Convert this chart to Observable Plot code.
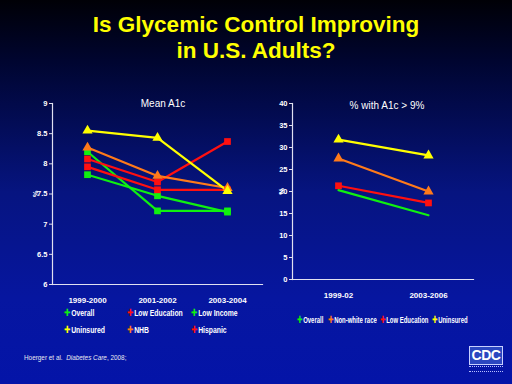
<!DOCTYPE html>
<html><head><meta charset="utf-8">
<script src="https://cdn.jsdelivr.net/npm/d3@7"></script>
<script src="https://cdn.jsdelivr.net/npm/@observablehq/plot@0.6"></script>
<style>
html,body{margin:0;padding:0;background:#000;}
#slide{position:relative;width:512px;height:384px;overflow:hidden;
  background:linear-gradient(180deg,#000006 0%,#000530 16%,#061480 50%,#0616a0 78%,#0414a8 100%);
  font-family:"Liberation Sans",Arial,sans-serif;}
#title{position:absolute;left:0;top:12px;width:512px;text-align:center;color:#ffff00;
  font-weight:bold;font-size:22.5px;line-height:26px;}
.plot{position:absolute;}
.ptitle{position:absolute;color:#fff;font-size:10px;transform:translateX(-50%);white-space:nowrap;}
.leg{position:absolute;color:#fff;font-family:"Liberation Sans",Arial,sans-serif;
  font-size:9px;font-weight:bold;white-space:nowrap;transform:scaleX(0.76);transform-origin:0 50%;}
.leg span.m{font-family:"DejaVu Sans";font-size:10px;margin-right:1px;}
#cite{position:absolute;left:24px;top:353px;color:#e8e8f0;font-size:7.5px;
  font-family:"Liberation Sans",Arial,sans-serif;transform:scaleX(0.85);transform-origin:0 50%;white-space:nowrap;}
#cdc{position:absolute;left:469px;top:346px;width:32px;height:17px;background:#2a46c0;
  border:1px solid #c8d0ff;color:#fff;font-weight:bold;font-size:14px;line-height:17px;text-align:center;letter-spacing:-0.5px;}
#cdcsub{position:absolute;left:469px;top:366px;width:34px;height:4px;border-top:1px dotted #b8c0ff;border-bottom:1px dotted #b8c0ff;}
</style>
</head><body>
<div id="slide">
  <div id="title">Is Glycemic Control Improving<br>in U.S. Adults?</div>
  <div id="left" class="plot" style="left:20px;top:90px;"></div>
  <div id="right" class="plot" style="left:260px;top:90px;"></div>
  <div class="ptitle" style="left:163px;top:98px;">Mean A1c</div>
  <div class="ptitle" style="left:387px;top:100px;">% with A1c &gt; 9%</div>
  <div id="cite">Hoerger et al.&nbsp; <i>Diabetes Care</i>, 2008;</div>
  <div id="cdc">CDC</div>
  <div id="cdcsub"></div>
</div>
<script>
// ---- Left panel: Mean A1c ----
const periodsA = ["1999-2000", "2001-2002", "2003-2004"];
const overallA = [7.82, 7.47, 7.20];
const lowEducationA = [7.95, 7.57, 7.57];
const lowIncomeA = [8.20, 7.22, 7.22];
const uninsuredA = [8.55, 8.43, 7.55];
const nhbA = [8.27, 7.80, 7.60];
const hispanicA = [8.08, 7.70, 8.37];
const yTicksA = [6, 6.5, 7, 7.5, 8, 8.5, 9];

// ---- Right panel: % with A1c > 9% ----
const periodsB = ["1999-02", "2003-2006"];
const overallB = [20.3, 14.6];
const nonWhiteB = [27.5, 20.0];
const lowEducationB = [21.3, 17.4];
const uninsuredB = [31.8, 28.2];
const yTicksB = [0, 5, 10, 15, 20, 25, 30, 35, 40];

const GREEN = "#10f010", RED = "#ff1010", YELLOW = "#ffff00", ORANGE = "#ff7a1a";

const seriesA = [
  {name: "Overall", vals: overallA, color: GREEN, symbol: "square"},
  {name: "Low Income", vals: lowIncomeA, color: GREEN, symbol: "square"},
  {name: "Low Education", vals: lowEducationA, color: RED, symbol: "square"},
  {name: "Hispanic", vals: hispanicA, color: RED, symbol: "square"},
  {name: "NHB", vals: nhbA, color: ORANGE, symbol: "triangle"},
  {name: "Uninsured", vals: uninsuredA, color: YELLOW, symbol: "triangle"}
];
const seriesB = [
  {name: "Overall", vals: overallB, color: GREEN, symbol: null},
  {name: "Low Education", vals: lowEducationB, color: RED, symbol: "square"},
  {name: "Non-white race", vals: nonWhiteB, color: ORANGE, symbol: "triangle"},
  {name: "Uninsured", vals: uninsuredB, color: YELLOW, symbol: "triangle"}
];

function toRows(series, periods) {
  const rows = [];
  for (const s of series) s.vals.forEach((v, i) => rows.push({series: s.name, period: periods[i], value: v, color: s.color, symbol: s.symbol}));
  return rows;
}
const rowsA = toRows(seriesA, periodsA);
const rowsB = toRows(seriesB, periodsB);

const FONT = '"Liberation Sans",Arial,sans-serif';

function panel(rows, periods, yDomain, yTicks, opts) {
  return Plot.plot({
    width: opts.width, height: opts.height,
    marginLeft: 32, marginRight: opts.marginRight, marginTop: 13, marginBottom: opts.marginBottom,
    style: {background: "transparent", color: "#ffffff", fontFamily: FONT, fontSize: "7.5px", fontWeight: "bold", overflow: "visible"},
    x: {type: "point", domain: periods, padding: 0.5},
    y: {domain: yDomain},
    marks: [
      Plot.frame({anchor: "left", stroke: "#e0e0f0", strokeWidth: 1.2}),
      Plot.frame({anchor: "bottom", stroke: "#e0e0f0", strokeWidth: 1.2}),
      Plot.axisY({ticks: yTicks, tickFormat: opts.yFormat, tickSize: 3, tickPadding: 2, stroke: "#e0e0f0",
        label: "%", labelAnchor: "center", labelArrow: "none", labelOffset: opts.labelOffset, fontSize: 7.5}),
      Plot.axisX({tickSize: 0, tickPadding: opts.xPad, label: null, fontSize: 8}),
      Plot.line(rows, {x: "period", y: "value", z: "series", stroke: "color", strokeWidth: 2.2}),
      Plot.dot(rows.filter(d => d.symbol), {x: "period", y: "value", fill: "color", symbol: "symbol", r: 3.8})
    ]
  });
}

document.getElementById("left").append(panel(rowsA, periodsA, [6, 9], yTicksA,
  {width: 248, height: 220, marginRight: 6, marginBottom: 26, xPad: 13, labelOffset: 20, yFormat: d => String(d)}));
document.getElementById("right").append(panel(rowsB, periodsB, [0, 40], yTicksB,
  {width: 220, height: 210, marginRight: 7, marginBottom: 21, xPad: 13, labelOffset: 14, yFormat: d => String(d)}));

// ---- Legends ----
const legendL = [
  {name: "Overall", color: GREEN, x: 64, y: 307},
  {name: "Low Education", color: RED, x: 127, y: 307},
  {name: "Low Income", color: GREEN, x: 191, y: 307},
  {name: "Uninsured", color: YELLOW, x: 64, y: 324},
  {name: "NHB", color: ORANGE, x: 127, y: 324},
  {name: "Hispanic", color: RED, x: 191, y: 324}
];
const legendR = [
  {name: "Overall", color: GREEN, x: 297, y: 314},
  {name: "Non-white race", color: ORANGE, x: 328, y: 314},
  {name: "Low Education", color: RED, x: 380, y: 314},
  {name: "Uninsured", color: YELLOW, x: 432, y: 314}
];
const slide = document.getElementById("slide");
for (const it of legendL.concat(legendR)) {
  const d = document.createElement("div");
  d.className = "leg";
  if (legendR.includes(it)) d.style.transform = "scaleX(0.66)";
  d.style.left = it.x + "px"; d.style.top = it.y + "px";
  const m = document.createElement("span"); m.className = "m"; m.style.color = it.color; m.textContent = "\u271A";
  d.append(m, document.createTextNode(it.name));
  slide.append(d);
}
</script>
</body></html>
